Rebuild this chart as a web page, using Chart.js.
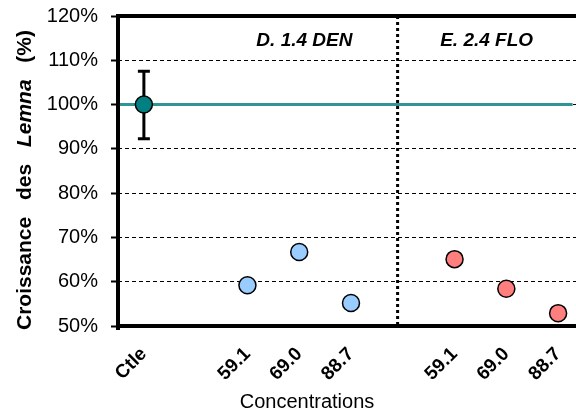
<!DOCTYPE html>
<html>
<head>
<meta charset="utf-8">
<script src="https://cdn.jsdelivr.net/npm/chart.js@4"></script>
<style>
  html, body { margin: 0; padding: 0; background: #fff; overflow: hidden; }
  #wrap { width: 576px; height: 416px; overflow: hidden; }
</style>
</head>
<body>
<div id="wrap"><canvas id="chart" width="594" height="416"></canvas></div>
<script>
// categories on the x axis (empty slots are the gaps around the groups)
const categories = ['Ctle', '', '59.1', '69.0', '88.7', '', '59.1', '69.0', '88.7'];

// growth values (fraction of control)
const ctleValues = [1.00, null, null, null, null, null, null, null, null];
const denValues  = [null, null, 0.592, 0.667, 0.552, null, null, null, null];
const floValues  = [null, null, null, null, null, null, 0.651, 0.584, 0.529];

// control error bar (low, high)
const ctleError = [0.923, 1.075];
const controlLevel = 1.00;

const yMin = 0.5, yMax = 1.2, yStep = 0.1;

const groupLabels = ['D. 1.4 DEN', 'E. 2.4 FLO'];
const groupLabelAt = [3.1, 6.62];
const dividerAt = 4.9;
const controlLineEnd = 8.28;

const FONT = '"Liberation Sans", Arial, sans-serif';

// extra drawing: reference line, error bar, divider, labels, titles
const extras = {
  id: 'extras',
  beforeDatasetsDraw(chart) {
    const { ctx, chartArea: a, scales: { x, y } } = chart;
    ctx.save();

    // control reference line at 100%
    let yc = y.getPixelForValue(controlLevel);
    ctx.strokeStyle = '#2E9494';
    ctx.lineWidth = 3;
    ctx.beginPath();
    ctx.moveTo(a.left, yc);
    ctx.lineTo(x.getPixelForValue(controlLineEnd), yc);
    ctx.stroke();

    // dotted divider between the two groups
    let xd = x.getPixelForValue(dividerAt);
    ctx.strokeStyle = '#000';
    ctx.lineWidth = 3;
    ctx.setLineDash([3, 3]);
    ctx.beginPath();
    ctx.moveTo(xd, a.top);
    ctx.lineTo(xd, a.bottom);
    ctx.stroke();
    ctx.setLineDash([]);

    // error bar on the control point
    let xe = x.getPixelForValue(0);
    let lo = y.getPixelForValue(ctleError[0]);
    let hi = y.getPixelForValue(ctleError[1]);
    ctx.lineWidth = 3;
    ctx.beginPath();
    ctx.moveTo(xe, lo); ctx.lineTo(xe, hi);
    ctx.moveTo(xe - 6, lo); ctx.lineTo(xe + 6, lo);
    ctx.moveTo(xe - 6, hi); ctx.lineTo(xe + 6, hi);
    ctx.stroke();
    ctx.restore();
  },
  afterDraw(chart) {
    const { ctx, chartArea: a, scales: { x } } = chart;
    ctx.save();

    // thick frame: left and top
    ctx.strokeStyle = '#000';
    ctx.lineWidth = 4;
    ctx.beginPath();
    ctx.moveTo(a.left, a.bottom + 4);
    ctx.lineTo(a.left, a.top);
    ctx.moveTo(a.left - 2, a.top);
    ctx.lineTo(a.right, a.top);
    ctx.stroke();

    // group labels
    ctx.fillStyle = '#000';
    ctx.font = 'italic bold 19px ' + FONT;
    ctx.textAlign = 'center';
    ctx.textBaseline = 'middle';
    groupLabels.forEach((t, i) => {
      ctx.fillText(t, x.getPixelForValue(groupLabelAt[i]), a.top + 25);
    });

    // x title
    ctx.font = '20px ' + FONT;
    ctx.fillText('Concentrations', x.getPixelForValue(3.15), 402);

    // y title, words spread along the axis, "Lemna" in italics
    const words = [
      { t: 'Croissance', f: 'bold 21px ' + FONT },
      { t: 'des', f: 'bold 21px ' + FONT },
      { t: 'Lemna', f: 'italic bold 21px ' + FONT },
      { t: '(%)', f: 'bold 21px ' + FONT }
    ];
    let start = a.bottom + 4, end = a.top + 14;
    let widths = words.map(w => { ctx.font = w.f; return ctx.measureText(w.t).width; });
    let total = widths.reduce((s, w) => s + w, 0);
    let gap = ((start - end) - total) / (words.length - 1);
    ctx.translate(25, 0);
    ctx.rotate(-Math.PI / 2);
    ctx.textAlign = 'left';
    let pos = start;
    words.forEach((w, i) => {
      ctx.font = w.f;
      ctx.fillText(w.t, -pos, 0);
      pos -= widths[i] + gap;
    });
    ctx.restore();
  }
};

const pointStyle = (color, data) => ({
  data: data,
  showLine: false,
  backgroundColor: color,
  borderColor: '#000',
  borderWidth: 1.5,
  pointRadius: 8.5,
  pointHoverRadius: 8.5,
  clip: false
});

const ctx = document.getElementById('chart').getContext('2d');
const chart = new Chart(ctx, {
  type: 'line',
  data: {
    labels: categories,
    datasets: [
      pointStyle('#008080', ctleValues),
      pointStyle('#99CCFF', denValues),
      pointStyle('#FF7F7F', floValues)
    ]
  },
  options: {
    responsive: false,
    animation: false,
    devicePixelRatio: 1,
    layout: { padding: { top: 16, left: 0, right: 0, bottom: 0 } },
    plugins: {
      legend: { display: false },
      tooltip: { enabled: false }
    },
    scales: {
      x: {
        offset: true,
        afterFit: s => { s.height = 90; },
        grid: { display: false, offset: false },
        border: { display: true, color: '#000', width: 4 },
        ticks: {
          autoSkip: false,
          maxRotation: 45,
          minRotation: 45,
          padding: 9,
          color: '#000',
          font: { family: FONT, size: 19, weight: 'bold' }
        }
      },
      y: {
        min: yMin,
        max: yMax,
        afterFit: s => { s.width = 118; s.paddingTop = 0; s.paddingBottom = 0; },
        border: { display: false, color: '#000', width: 4, dash: [4, 3] },
        grid: {
          color: '#000',
          lineWidth: 1,
          tickLength: 7,
          tickColor: '#000',
          tickWidth: 2
        },
        ticks: {
          stepSize: yStep,
          padding: 13,
          color: '#000',
          font: { family: FONT, size: 20 },
          callback: v => Math.round(v * 100) + '%'
        }
      }
    }
  },
  plugins: [extras]
});
</script>
</body>
</html>
